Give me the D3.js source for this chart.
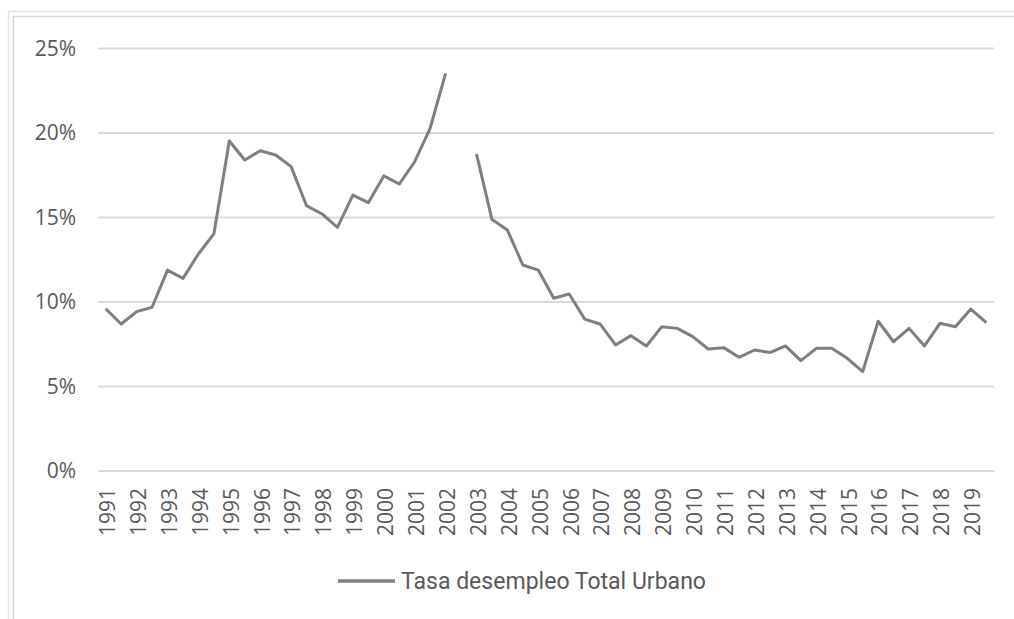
<!DOCTYPE html>
<html>
<head>
<meta charset="utf-8">
<script src="https://cdn.jsdelivr.net/npm/d3@7"></script>
<style>
	body { margin: 0; background: #fff; }
	svg { display: block; }
	.tick text { fill: #595959; font-family: "Open Sans", sans-serif; font-size: 21px; }
</style>
</head>
<body>
<script>
// semiannual urban unemployment rate (%), 1991-I .. 2019-II; 2002-II has no value
const years = [1991, 1992, 1993, 1994, 1995, 1996, 1997, 1998, 1999, 2000,
	2001, 2002, 2003, 2004, 2005, 2006, 2007, 2008, 2009, 2010,
	2011, 2012, 2013, 2014, 2015, 2016, 2017, 2018, 2019];
const semesters = ["I", "II"];
const rates = [9.57, 8.67, 9.40, 9.66, 11.86, 11.37, 12.81, 14.0, 19.50, 18.37,
	18.92, 18.67, 17.98, 15.67, 15.18, 14.39, 16.30, 15.85, 17.43, 16.95,
	18.27, 20.25, 23.50, null, 18.73, 14.86, 14.23, 12.16, 11.86, 10.19,
	10.44, 8.96, 8.67, 7.43, 7.98, 7.37, 8.51, 8.41, 7.92, 7.19,
	7.27, 6.70, 7.13, 6.98, 7.37, 6.50, 7.23, 7.23, 6.64, 5.85,
	8.83, 7.62, 8.41, 7.37, 8.71, 8.51, 9.55, 8.75];
const yTicks = [0, 5, 10, 15, 20, 25];
const seriesName = "Tasa desempleo Total Urbano";

const periods = years.flatMap(y => semesters.map(s => y + "-" + s));
const data = periods.map((p, i) => ({period: p, value: rates[i]}));

var width = 1014, height = 619;
var plot = {left: 98, right: 994, top: 48, bottom: 470.5};

var svg = d3.select("body").append("svg")
	.attr("width", width)
	.attr("height", height);

// frame left over from the surrounding chart box
svg.append("path")
	.attr("d", "M8.5,619V11.5H1014")
	.attr("fill", "none")
	.attr("stroke", "#e3e3e3")
	.attr("stroke-width", 1.5);
svg.append("path")
	.attr("d", "M13.5,619V16.5H1014")
	.attr("fill", "none")
	.attr("stroke", "#d9d9d9")
	.attr("stroke-width", 1.5);

var x = d3.scalePoint()
	.domain(periods)
	.range([plot.left, plot.right])
	.padding(0.5);
var y = d3.scaleLinear()
	.domain([0, 25])
	.range([plot.bottom, plot.top]);

// y axis with gridlines
var yAxis = svg.append("g")
	.attr("transform", "translate(" + plot.left + ",0)")
	.call(d3.axisLeft(y)
		.tickValues(yTicks)
		.tickSize(-(plot.right - plot.left))
		.tickPadding(22)
		.tickFormat(d => d + "%"));
yAxis.select(".domain").remove();
yAxis.selectAll(".tick line")
	.attr("stroke", "#d9d9d9")
	.attr("stroke-width", 2);
yAxis.selectAll(".tick text")
	.attr("dy", "0.34em");

// x axis, a year label on every first semester
var xAxis = svg.append("g")
	.attr("transform", "translate(0," + plot.bottom + ")")
	.call(d3.axisBottom(x)
		.tickValues(periods.filter(p => p.endsWith("-I")))
		.tickSize(0)
		.tickFormat(p => p.split("-")[0]));
xAxis.select(".domain").remove();
xAxis.selectAll(".tick text")
	.attr("transform", "rotate(-90)")
	.attr("text-anchor", "end")
	.attr("x", -17.5)
	.attr("y", 1.5)
	.attr("dy", "0.35em");

var line = d3.line()
	.defined(d => d.value != null)
	.x(d => x(d.period))
	.y(d => y(d.value));

svg.append("path")
	.datum(data)
	.attr("fill", "none")
	.attr("stroke", "#7f7f7f")
	.attr("stroke-width", 3)
	.attr("stroke-linejoin", "round")
	.attr("d", line);

// legend
var legend = svg.append("g").attr("transform", "translate(338,581)");
legend.append("line")
	.attr("x1", 0).attr("x2", 57)
	.attr("stroke", "#7f7f7f")
	.attr("stroke-width", 3.5);
legend.append("text")
	.attr("x", 63)
	.attr("y", 7.5)
	.attr("fill", "#595959")
	.style("font-family", "'Liberation Sans Narrow', 'Roboto', sans-serif")
	.style("font-size", "23px")
	.attr("textLength", 305)
	.attr("lengthAdjust", "spacingAndGlyphs")
	.text(seriesName);
</script>
</body>
</html>
